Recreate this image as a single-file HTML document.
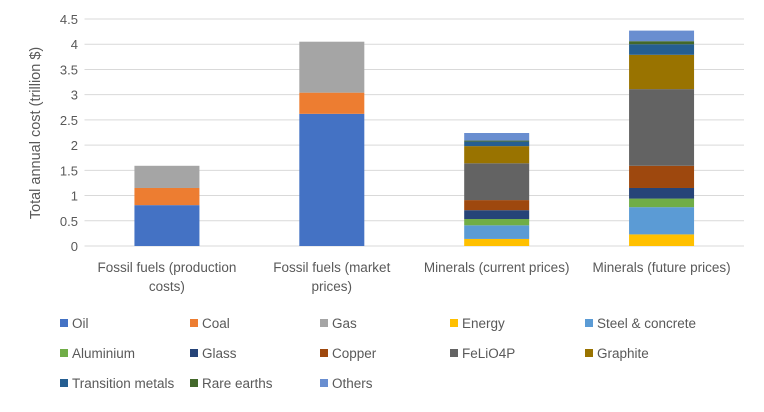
<!DOCTYPE html>
<html><head><meta charset="utf-8"><style>
body{margin:0;background:#fff;font-family:"Liberation Sans",sans-serif}
svg text{font-family:"Liberation Sans",sans-serif;fill:#595959}
</style></head><body>
<svg id="c" width="764" height="407" xmlns="http://www.w3.org/2000/svg"></svg>
<script>
const categories=[["Fossil fuels (production","costs)"],["Fossil fuels (market","prices)"],["Minerals (current prices)"],["Minerals (future prices)"]];
const seriesNames=["Oil","Coal","Gas","Energy","Steel & concrete","Aluminium","Glass","Copper","FeLiO4P","Graphite","Transition metals","Rare earths","Others"];
const seriesColors=["#4472C4","#ED7D31","#A5A5A5","#FFC000","#5B9BD5","#70AD47","#264478","#9E480E","#636363","#997300","#255E91","#43682B","#698ED0"];
const oil=[0.81,2.62,0,0];
const coal=[0.34,0.42,0,0];
const gas=[0.44,1.01,0,0];
const energy=[0,0,0.14,0.23];
const steel=[0,0,0.27,0.54];
const aluminium=[0,0,0.125,0.17];
const glass=[0,0,0.175,0.21];
const copper=[0,0,0.2,0.44];
const feliop=[0,0,0.73,1.52];
const graphite=[0,0,0.34,0.68];
const transition=[0,0,0.09,0.21];
const rareEarths=[0,0,0.02,0.06];
const others=[0,0,0.15,0.21];
const yTicks=["0","0.5","1","1.5","2","2.5","3","3.5","4","4.5"];
const series=[oil,coal,gas,energy,steel,aluminium,glass,copper,feliop,graphite,transition,rareEarths,others];
const NS="http://www.w3.org/2000/svg",svg=document.getElementById('c');
const x0=84.5,x1=744,y0=246,yMax=4.5,yTop=19;
const y=v=>y0-(v/yMax)*(y0-yTop);
const band=(x1-x0)/categories.length;
const xc=i=>x0+band*(i+0.5);
function mk(t,a,p){const e=document.createElementNS(NS,t);for(const k in a)e.setAttribute(k,a[k]);(p||svg).appendChild(e);return e;}
yTicks.forEach((t,i)=>{const v=parseFloat(t);
 const g=mk('line',{x1:x0,x2:x1,y1:y(v),y2:y(v),stroke:'#d9d9d9','stroke-width':1});
 
 
 const tx=mk('text',{x:78,y:y(v)+5,'text-anchor':'end','font-size':13});tx.textContent=t;
 
 
});
categories.forEach((c,i)=>{let cum=0;
 series.forEach((s,j)=>{const v=s[i];if(v<=0)return;
  const r=mk('rect',{x:xc(i)-32.5,width:65,y:y(cum+v),height:y(cum)-y(cum+v),fill:seriesColors[j]});
  
  
  cum+=v;});
 c.forEach((l,k)=>{const t=mk('text',{x:xc(i),y:272+k*19,'text-anchor':'middle','font-size':13.5});t.textContent=l;
  
  });
});
const yt=mk('text',{x:0,y:0,transform:'translate(40,133) rotate(-90)','text-anchor':'middle','font-size':14.5});
yt.textContent="Total annual cost (trillion $)";


const lx=[60,190,320,450,585];
seriesNames.forEach((n,j)=>{const cx=lx[j%5],cy=323+Math.floor(j/5)*30;
 const g=mk('g',{});
 
 
 mk('rect',{x:cx,y:cy-4,width:8,height:8,fill:seriesColors[j]},g);
 const t=mk('text',{x:cx+12,y:cy+5,'font-size':13.5},g);t.textContent=n;});
</script>
</body></html>
